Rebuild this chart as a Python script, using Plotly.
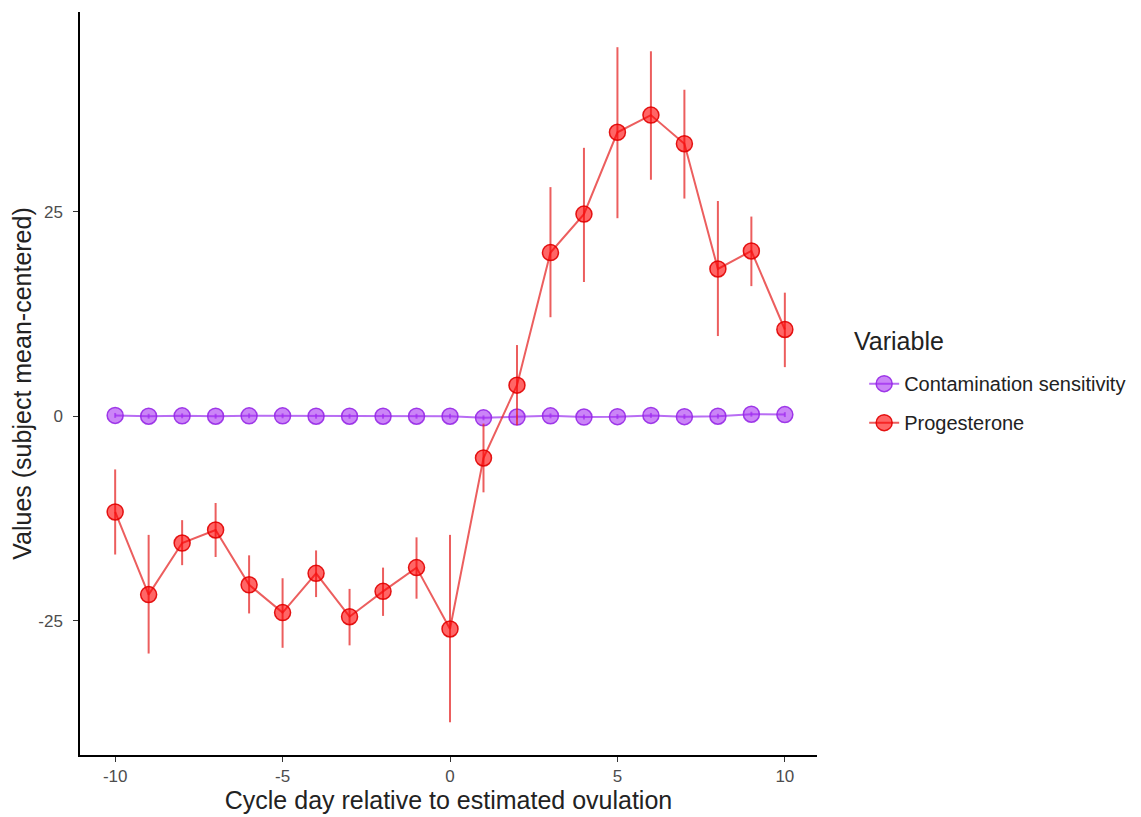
import plotly.graph_objects as go

days = list(range(-10, 11))

prog_mean = [-11.7, -21.8, -15.5, -13.9, -20.6, -24.0, -19.2, -24.5, -21.4, -18.5, -26.0,
             -5.1, 3.8, 20.0, 24.7, 34.7, 36.8, 33.3, 18.0, 20.2, 10.6]
prog_upper = [-6.5, -14.5, -12.7, -10.6, -17.0, -19.8, -16.4, -21.1, -18.5, -14.8, -14.5,
              -0.9, 8.7, 28.0, 32.8, 45.1, 44.6, 39.9, 26.3, 24.4, 15.1]
prog_lower = [-16.9, -29.0, -18.2, -17.2, -24.1, -28.3, -22.1, -28.0, -24.4, -22.3, -37.4,
              -9.3, -1.1, 12.1, 16.4, 24.2, 28.9, 26.6, 9.8, 15.9, 6.0]

cont_mean = [0.1, 0.0, 0.05, 0.0, 0.05, 0.05, 0.0, 0.0, 0.0, 0.0, 0.0,
             -0.2, -0.1, 0.05, -0.1, -0.05, 0.1, -0.05, 0.0, 0.25, 0.2]
cont_err = [0.3] * 21

x_ticks = [-10, -5, 0, 5, 10]
y_ticks = [-25, 0, 25]

purple_fill = "rgba(160,32,240,0.55)"
purple_edge = "rgba(150,40,230,0.9)"
red_fill = "rgba(255,0,0,0.6)"
red_edge = "rgba(225,0,0,0.9)"

fig = go.Figure()

fig.add_trace(go.Scatter(
    x=days, y=cont_mean, mode="lines+markers", name="Contamination sensitivity",
    legendgroup="a",
    line=dict(color="rgba(160,60,240,0.75)", width=2),
    marker=dict(size=16, color=purple_fill, line=dict(color=purple_edge, width=1.5)),
    error_y=dict(type="data", symmetric=True, array=cont_err, width=0,
                 thickness=2, color="rgba(160,60,240,0.7)"),
))

fig.add_trace(go.Scatter(
    x=days, y=prog_mean, mode="lines+markers", name="Progesterone",
    legendgroup="b",
    line=dict(color="rgba(230,40,40,0.75)", width=2),
    marker=dict(size=16, color=red_fill, line=dict(color=red_edge, width=1.5)),
    error_y=dict(type="data", symmetric=False,
                 array=[u - m for u, m in zip(prog_upper, prog_mean)],
                 arrayminus=[m - l for m, l in zip(prog_mean, prog_lower)],
                 width=0, thickness=2, color="rgba(230,40,40,0.75)"),
))

fig.add_annotation(
    text="Variable", xref="paper", yref="paper",
    x=1.048, xanchor="left", y=0.5575, yanchor="middle",
    showarrow=False, font=dict(size=25, color="#222222"),
)

fig.update_layout(
    width=1141, height=817,
    paper_bgcolor="white", plot_bgcolor="white",
    margin=dict(l=72, r=332, t=4, b=70),
    font=dict(family="Liberation Sans, Arial, sans-serif", color="#222222"),
    showlegend=True,
    legend=dict(
        font=dict(size=20, color="#222222"),
        x=1.064, xanchor="left", y=0.526, yanchor="top",
        tracegroupgap=10, traceorder="grouped",
    ),
    xaxis=dict(
        range=[-11.05, 10.96], tickvals=x_ticks, ticktext=[str(v) for v in x_ticks],
        showgrid=False, zeroline=False, showline=True, linecolor="black", linewidth=1.5,
        ticks="outside", ticklen=5, tickcolor="#333333", tickwidth=1,
        tickfont=dict(size=17, color="#4d4d4d"),
        title=dict(text="Cycle day relative to estimated ovulation",
                   font=dict(size=25, color="#222222"), standoff=5),
    ),
    yaxis=dict(
        range=[-41.4, 49.4], tickvals=y_ticks, ticktext=[str(v) for v in y_ticks],
        showgrid=False, zeroline=False, showline=True, linecolor="black", linewidth=1.5,
        ticks="outside", ticklen=5, tickcolor="#333333", tickwidth=1,
        ticklabelstandoff=7,
        tickfont=dict(size=17, color="#4d4d4d"),
        title=dict(text="Values (subject mean-centered)",
                   font=dict(size=25, color="#222222"), standoff=7),
    ),
)

fig.write_html("out.html")
